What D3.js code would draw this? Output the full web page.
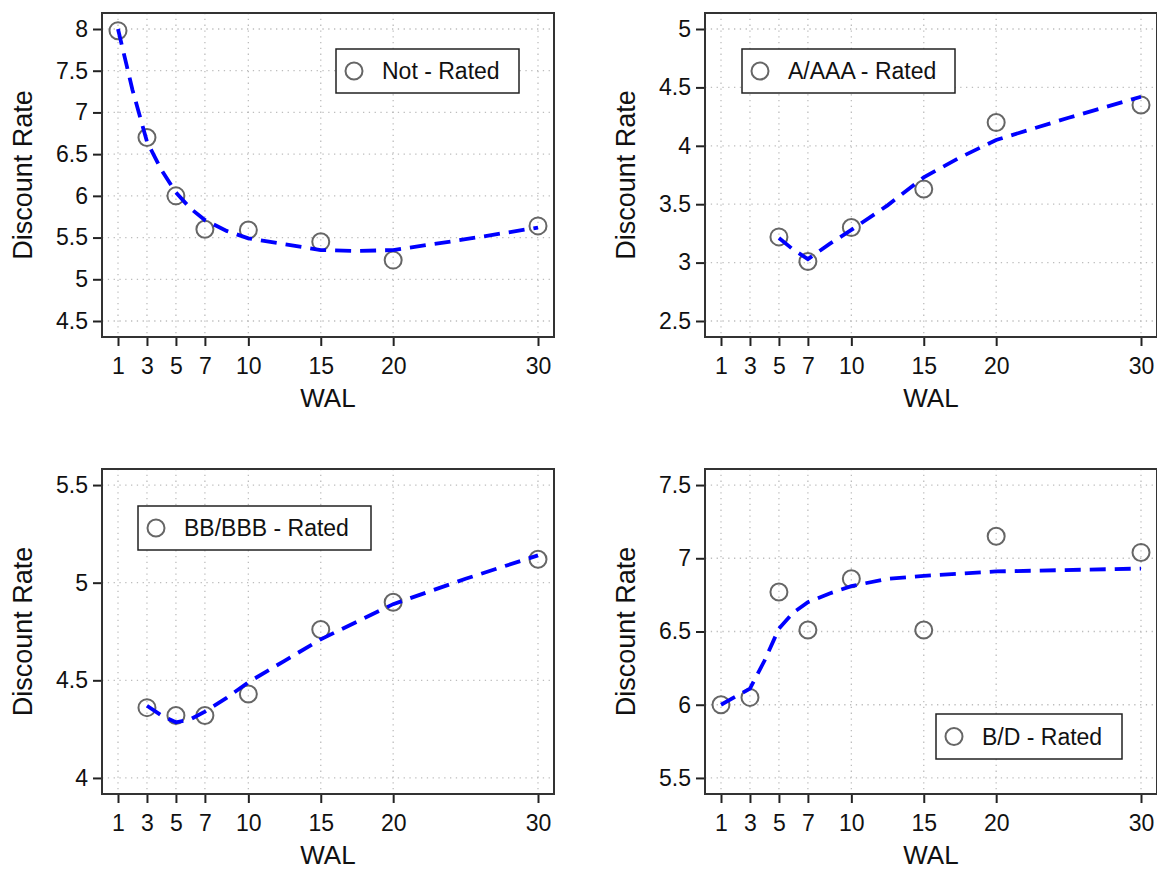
<!DOCTYPE html>
<html>
<head>
<meta charset="utf-8">
<script src="https://cdn.jsdelivr.net/npm/d3@7"></script>
<style>
  body { margin: 0; background: #fff; }
  svg { display: block; font-family: "Liberation Sans", Arial, sans-serif; }
</style>
</head>
<body>
<svg id="chart" width="1157" height="869"></svg>
<script>
// x ticks shared by all panels
const walTicks = [1, 3, 5, 7, 10, 15, 20, 30];

// Not - Rated
const nrWal = [1, 3, 5, 7, 10, 15, 20, 30];
const nrRate = [7.98, 6.70, 6.00, 5.60, 5.59, 5.45, 5.23, 5.64];
const nrFitWal = [1, 2, 3, 4, 5, 6, 7, 8.5, 10, 12.5, 15, 17.5, 20, 25, 30];
const nrFit = [8.00, 7.27, 6.65, 6.31, 6.04, 5.85, 5.71, 5.58, 5.49, 5.42, 5.35, 5.34, 5.35, 5.48, 5.62];
const nrTicks = [4.5, 5, 5.5, 6, 6.5, 7, 7.5, 8];

// A/AAA - Rated
const aWal = [5, 7, 10, 15, 20, 30];
const aRate = [3.22, 3.01, 3.30, 3.63, 4.20, 4.35];
const aFitWal = [5, 6, 7, 8.5, 10, 12.5, 15, 17.5, 20, 25, 30];
const aFit = [3.21, 3.11, 3.03, 3.16, 3.28, 3.49, 3.73, 3.90, 4.05, 4.24, 4.42];
const aTicks = [2.5, 3, 3.5, 4, 4.5, 5];

// BB/BBB - Rated
const bbWal = [3, 5, 7, 10, 15, 20, 30];
const bbRate = [4.36, 4.32, 4.32, 4.43, 4.76, 4.90, 5.12];
const bbFitWal = [3, 4, 5, 6, 7, 8.5, 10, 12.5, 15, 17.5, 20, 25, 30];
const bbFit = [4.37, 4.32, 4.285, 4.30, 4.34, 4.41, 4.49, 4.60, 4.71, 4.80, 4.89, 5.02, 5.14];
const bbTicks = [4, 4.5, 5, 5.5];

// B/D - Rated
const bdWal = [1, 3, 5, 7, 10, 15, 20, 30];
const bdRate = [6.00, 6.05, 6.77, 6.51, 6.86, 6.51, 7.15, 7.04];
const bdFitWal = [1, 3, 4, 5, 6, 7, 8.5, 10, 12.5, 15, 20, 30];
const bdFit = [6.00, 6.11, 6.30, 6.52, 6.63, 6.70, 6.76, 6.81, 6.86, 6.88, 6.91, 6.93];
const bdTicks = [5.5, 6, 6.5, 7, 7.5];

const W = 452;
const panels = [
  { left: 102, top: 13, h: 324, label: "Not - Rated", wal: nrWal, rate: nrRate, fitWal: nrFitWal, fit: nrFit, ticks: nrTicks,
    legend: { x: 336, y: 49, w: 183, h: 44 } },
  { left: 705, top: 13, h: 324, label: "A/AAA - Rated", wal: aWal, rate: aRate, fitWal: aFitWal, fit: aFit, ticks: aTicks,
    legend: { x: 742, y: 49, w: 213, h: 44 } },
  { left: 102, top: 469, h: 325, label: "BB/BBB - Rated", wal: bbWal, rate: bbRate, fitWal: bbFitWal, fit: bbFit, ticks: bbTicks,
    legend: { x: 138, y: 506, w: 233, h: 44 } },
  { left: 705, top: 469, h: 325, label: "B/D - Rated", wal: bdWal, rate: bdRate, fitWal: bdFitWal, fit: bdFit, ticks: bdTicks,
    legend: { x: 936, y: 714, w: 186, h: 45 } }
];

const svg = d3.select("#chart");
svg.append("rect").attr("width", 1157).attr("height", 869).attr("fill", "#fff");

function drawPanel(p) {
  const g = svg.append("g");
  const xPad = 29 * 16 / 420;
  const x = d3.scaleLinear()
    .domain([1 - xPad, 30 + xPad])
    .range([p.left, p.left + W]);
  const lo = p.ticks[0], hi = p.ticks[p.ticks.length - 1];
  const yPad = (hi - lo) * 16 / 292;
  const y = d3.scaleLinear()
    .domain([lo - yPad, hi + yPad])
    .range([p.top + p.h, p.top]);

  // dotted grid
  g.selectAll("line.vgrid")
    .data(walTicks)
    .enter()
    .append("line")
    .attr("x1", d => x(d)).attr("x2", d => x(d))
    .attr("y1", p.top).attr("y2", p.top + p.h)
    .attr("stroke", "#bdbdbd").attr("stroke-width", 1.3)
    .attr("stroke-dasharray", "1.3,4.5");
  g.selectAll("line.hgrid")
    .data(p.ticks)
    .enter()
    .append("line")
    .attr("x1", p.left).attr("x2", p.left + W)
    .attr("y1", d => y(d)).attr("y2", d => y(d))
    .attr("stroke", "#bdbdbd").attr("stroke-width", 1.3)
    .attr("stroke-dasharray", "1.3,4.5");

  // axes
  const yAxis = g.append("g")
    .attr("transform", `translate(${p.left},0)`)
    .call(d3.axisLeft(y).tickValues(p.ticks).tickSize(9).tickPadding(5).tickFormat(d => String(d)));
  const xAxis = g.append("g")
    .attr("transform", `translate(0,${p.top + p.h})`)
    .call(d3.axisBottom(x).tickValues(walTicks).tickSize(9).tickPadding(12).tickFormat(d => String(d)));
  [yAxis, xAxis].forEach(a => {
    a.select(".domain").remove();
    a.selectAll("line").attr("stroke", "#222").attr("stroke-width", 2);
    a.selectAll("text").attr("fill", "#111").style("font-size", "23px").style("font-family", "Liberation Sans, Arial, sans-serif");
  });

  // frame
  g.append("rect")
    .attr("x", p.left).attr("y", p.top)
    .attr("width", W).attr("height", p.h)
    .attr("fill", "none").attr("stroke", "#333").attr("stroke-width", 2);

  // points
  g.selectAll("circle.pt")
    .data(p.wal.map((w, i) => ({ w, r: p.rate[i] })))
    .enter()
    .append("circle")
    .attr("cx", d => x(d.w)).attr("cy", d => y(d.r))
    .attr("r", 8.5)
    .attr("fill", "none").attr("stroke", "#666").attr("stroke-width", 2);

  // fitted curve
  const line = d3.line().x(d => x(d.w)).y(d => y(d.f));
  g.append("path")
    .datum(p.fitWal.map((w, i) => ({ w, f: p.fit[i] })))
    .attr("d", line)
    .attr("fill", "none").attr("stroke", "#0000ff")
    .attr("stroke-width", 3.8).attr("stroke-dasharray", "16,9");

  // legend
  const L = p.legend;
  g.append("rect")
    .attr("x", L.x).attr("y", L.y).attr("width", L.w).attr("height", L.h)
    .attr("fill", "#fff").attr("stroke", "#222").attr("stroke-width", 1.5);
  g.append("circle")
    .attr("cx", L.x + 18).attr("cy", L.y + L.h / 2).attr("r", 8.5)
    .attr("fill", "none").attr("stroke", "#666").attr("stroke-width", 2);
  g.append("text")
    .attr("x", L.x + 46).attr("y", L.y + L.h / 2 + 8)
    .attr("fill", "#111").style("font-size", "23px")
    .text(p.label);

  // titles
  g.append("text")
    .attr("transform", `translate(${p.left - 80},${p.top + p.h / 2}) rotate(-90)`)
    .attr("text-anchor", "middle").attr("dy", "0.36em")
    .attr("fill", "#111").style("font-size", "27px")
    .text("Discount Rate");
  g.append("text")
    .attr("x", p.left + W / 2).attr("y", p.top + p.h + 70)
    .attr("text-anchor", "middle")
    .attr("fill", "#111").style("font-size", "26px")
    .text("WAL");
}

panels.forEach(drawPanel);
</script>
</body>
</html>
